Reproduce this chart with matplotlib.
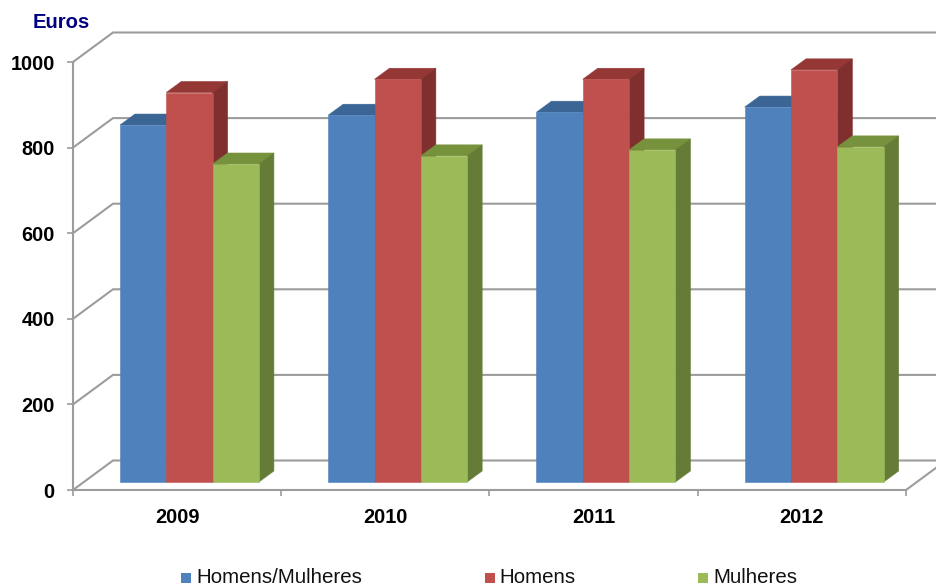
# Excel style 3D column chart: average earnings per year
import matplotlib
matplotlib.use("Agg")
import matplotlib.pyplot as plt
from matplotlib.patches import Rectangle

plt.rcParams['font.family'] = ['Liberation Sans', 'DejaVu Sans']

years = ["2009", "2010", "2011", "2012"]
homens_mulheres = [834, 857, 864, 876]
homens = [910, 941, 941, 963]
mulheres = [743, 762, 776, 783]
series_names = ["Homens/Mulheres", "Homens", "Mulheres"]
yticks = [0, 200, 400, 600, 800, 1000]

front_colors = ["#4F81BD", "#C0504D", "#9BBB59"]
top_colors = ["#3A6595", "#953735", "#76923C"]
side_colors = ["#2F5580", "#7F2F2D", "#657C37"]
grid_color = "#9C9C9C"

W, H = 937, 587
fig = plt.figure(figsize=(W / 100, H / 100), dpi=100)
# axes box in pixels: x 73-906, y 62-490
ax = fig.add_axes([73 / W, 1 - 490 / H, (906 - 73) / W, (490 - 62) / H])
ax.set_xlim(0, 4)
ax.set_ylim(0, 1000)
ax.patch.set_alpha(0)

# pixel sizes turned into data units
ux = 4 / (906 - 73)
uy = 1000 / (490 - 62)
wall_dx, wall_dy = 40 * ux, 29.5 * uy
bar_w = 46.3 * ux
bar_dx, bar_dy = 15 * ux, 11 * uy
base = 8 * uy
group_start = 47 * ux

# gridlines on the wall, with diagonal on the left side
for v in yticks:
    ax.plot([0, wall_dx, 4 + wall_dx], [v, v + wall_dy, v + wall_dy],
            color=grid_color, lw=1.5, clip_on=False, zorder=1, solid_joinstyle='miter')
# floor right edge
ax.plot([4, 4 + wall_dx], [0, wall_dy], color=grid_color, lw=1.5, clip_on=False, zorder=1)

# bars, thin edge in the same colour hides the seams between faces
for s, values in enumerate([homens_mulheres, homens, mulheres]):
    for i, v in enumerate(values):
        x0 = i + group_start + s * bar_w
        x1 = x0 + bar_w
        z = 3 + i + s * 0.1
        ax.fill([x0, x0 + bar_dx, x1 + bar_dx, x1], [v + base, v + base + bar_dy, v + base + bar_dy, v + base],
                facecolor=top_colors[s], edgecolor=top_colors[s], lw=0.4, zorder=z, clip_on=False)
        ax.fill([x1, x1 + bar_dx, x1 + bar_dx, x1], [base, base + bar_dy, v + base + bar_dy, v + base],
                facecolor=side_colors[s], edgecolor=side_colors[s], lw=0.4, zorder=z, clip_on=False)
        ax.fill([x0, x1, x1, x0], [base, base, v + base, v + base],
                facecolor=front_colors[s], edgecolor=front_colors[s], lw=0.4, zorder=z, clip_on=False)

# axes
for name in ['top', 'right']:
    ax.spines[name].set_visible(False)
for name in ['left', 'bottom']:
    ax.spines[name].set_color(grid_color)
    ax.spines[name].set_linewidth(1.5)

ax.set_yticks(yticks)
ax.set_xticks([0, 1, 2, 3, 4])
ax.set_xticklabels([])
ax.set_xticks([0.5, 1.5, 2.5, 3.5], minor=True)
ax.set_xticklabels(years, minor=True, fontsize=14.3, fontweight='bold')
ax.tick_params(axis='y', length=4.3, width=1.2, color=grid_color, pad=8.8, labelsize=14.3)
ax.tick_params(axis='x', which='major', length=4.3, width=1.2, color=grid_color)
ax.tick_params(axis='x', which='minor', length=0, pad=13)
for label in ax.get_yticklabels():
    label.set_fontweight('bold')

fig.text(33 / W, 1 - 23 / H, "Euros", color="#000080", fontsize=14.6, fontweight='bold', va='center', ha='left')

# legend placed by hand, spacing is wide in the original
legend_box = [181, 485, 698]
legend_text = [196, 499, 713]
for name, color, bx, tx in zip(series_names, front_colors, legend_box, legend_text):
    fig.add_artist(Rectangle((bx / W, 1 - 583 / H), 10 / W, 10 / H, color=color, lw=0, transform=fig.transFigure))
    fig.text(tx / W, 1 - 583 / H, name, fontsize=14.8, color="#111111", va='baseline', ha='left')

fig.savefig("out.png", dpi=100)
